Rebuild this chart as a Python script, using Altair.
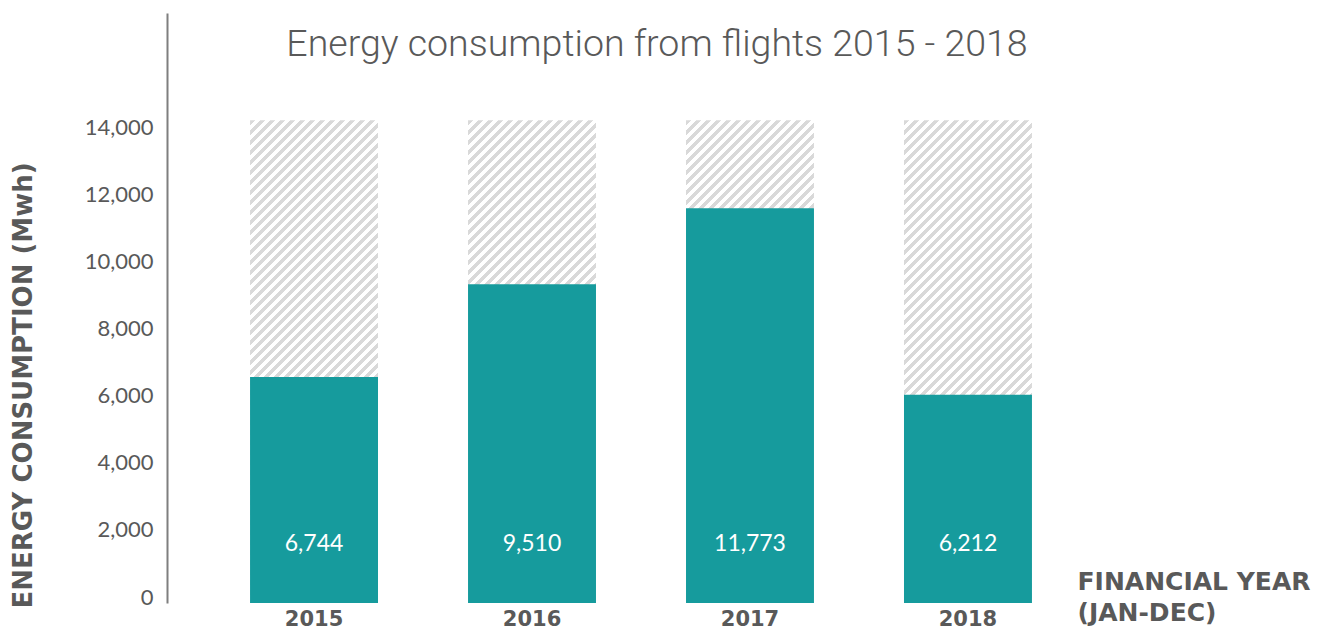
import altair as alt
import pandas as pd

# ---- data ----
years = ["2015", "2016", "2017", "2018"]
consumption = [6744, 9510, 11773, 6212]
capacity = [14400, 14400, 14400, 14400]
y_ticks = [0, 2000, 4000, 6000, 8000, 10000, 12000, 14000]

df = pd.DataFrame({"year": years, "value": consumption, "cap": capacity})

TEAL = "#169b9d"
GREY_TXT = "#595959"
HATCH = "#d9d9d9"

# ---- diagonal hatch built as a hard-stop linear gradient ----
bar_w, bar_h = 128.0, 483.0          # approx pixel size of the hatched bars
k = (bar_w / bar_h + 1) / ((bar_w / bar_h) ** 2 + 1)
gx2, gy2 = k * bar_w / bar_h, k
n_stripes = 61
stops = []
for i in range(n_stripes):
    a = i / n_stripes
    m = (i + 0.5) / n_stripes
    b = (i + 1) / n_stripes
    stops += [
        alt.GradientStop(color=HATCH, offset=a),
        alt.GradientStop(color=HATCH, offset=m),
        alt.GradientStop(color="#ffffff", offset=m),
        alt.GradientStop(color="#ffffff", offset=b),
    ]
hatch_fill = alt.LinearGradient(gradient="linear", stops=stops,
                                x1=0, y1=0, x2=gx2, y2=gy2)

yscale = alt.Scale(domain=[0, 17600], nice=False, zero=True)

x_enc = alt.X(
    "year:N",
    sort=years,
    scale=alt.Scale(paddingInner=0.413, paddingOuter=0.381),
    axis=alt.Axis(
        title=["FINANCIAL YEAR", "(JAN-DEC)"],
        titleX=910, titleY=-14, titleAlign="left", titleBaseline="alphabetic",
        titleFont="DejaVu Sans", titleFontWeight="bold", titleFontSize=25,
        titleColor=GREY_TXT, titleLineHeight=31,
        labelFont="DejaVu Sans", labelFontWeight="bold", labelFontSize=21,
        labelColor=GREY_TXT, labelAngle=0, labelPadding=5, labelBaseline="top",
        domain=False, ticks=False, tickSize=0,
    ),
)

base = alt.Chart(df).encode(x=x_enc)

hatch = base.mark_bar(fill=hatch_fill).encode(
    y=alt.Y(
        "cap:Q", scale=yscale,
        axis=alt.Axis(
            values=y_ticks, format=",.0f",
            labelFont="Lato", labelFontSize=22, labelColor=GREY_TXT,
            labelPadding=14, labelOffset=-6,
            ticks=False, tickSize=0, grid=False,
            domainColor="#7f7f7f", domainWidth=2,
            title="ENERGY CONSUMPTION (Mwh)",
            titleAngle=270, titleX=-144, titleY=595,
            titleAlign="left", titleBaseline="middle",
            titleFont="DejaVu Sans", titleFontWeight="bold", titleFontSize=26,
            titleColor=GREY_TXT,
        ),
    )
)

bars = base.mark_bar(color=TEAL).encode(y=alt.Y("value:Q", scale=yscale))

labels = base.mark_text(
    dy=-59, baseline="middle", color="white", font="Lato", fontSize=23
).encode(
    y=alt.datum(0, scale=yscale),
    text=alt.Text("value:Q", format=","),
)

chart = (
    alt.layer(hatch, bars, labels)
    .properties(
        width=948,
        height=590,
        autosize=alt.AutoSizeParams(type="none"),
        padding={"left": 159, "top": 5, "right": 209, "bottom": 26},
        title=alt.TitleParams(
            "Energy consumption from flights 2015 - 2018",
            font="Roboto", fontWeight=300, fontSize=37.5, color=GREY_TXT,
            anchor="middle", dx=16, offset=-80, baseline="alphabetic",
        ),
    )
    .configure_view(stroke=None)
)

chart.save("out.html", embed_options={"renderer": "svg", "actions": False})
